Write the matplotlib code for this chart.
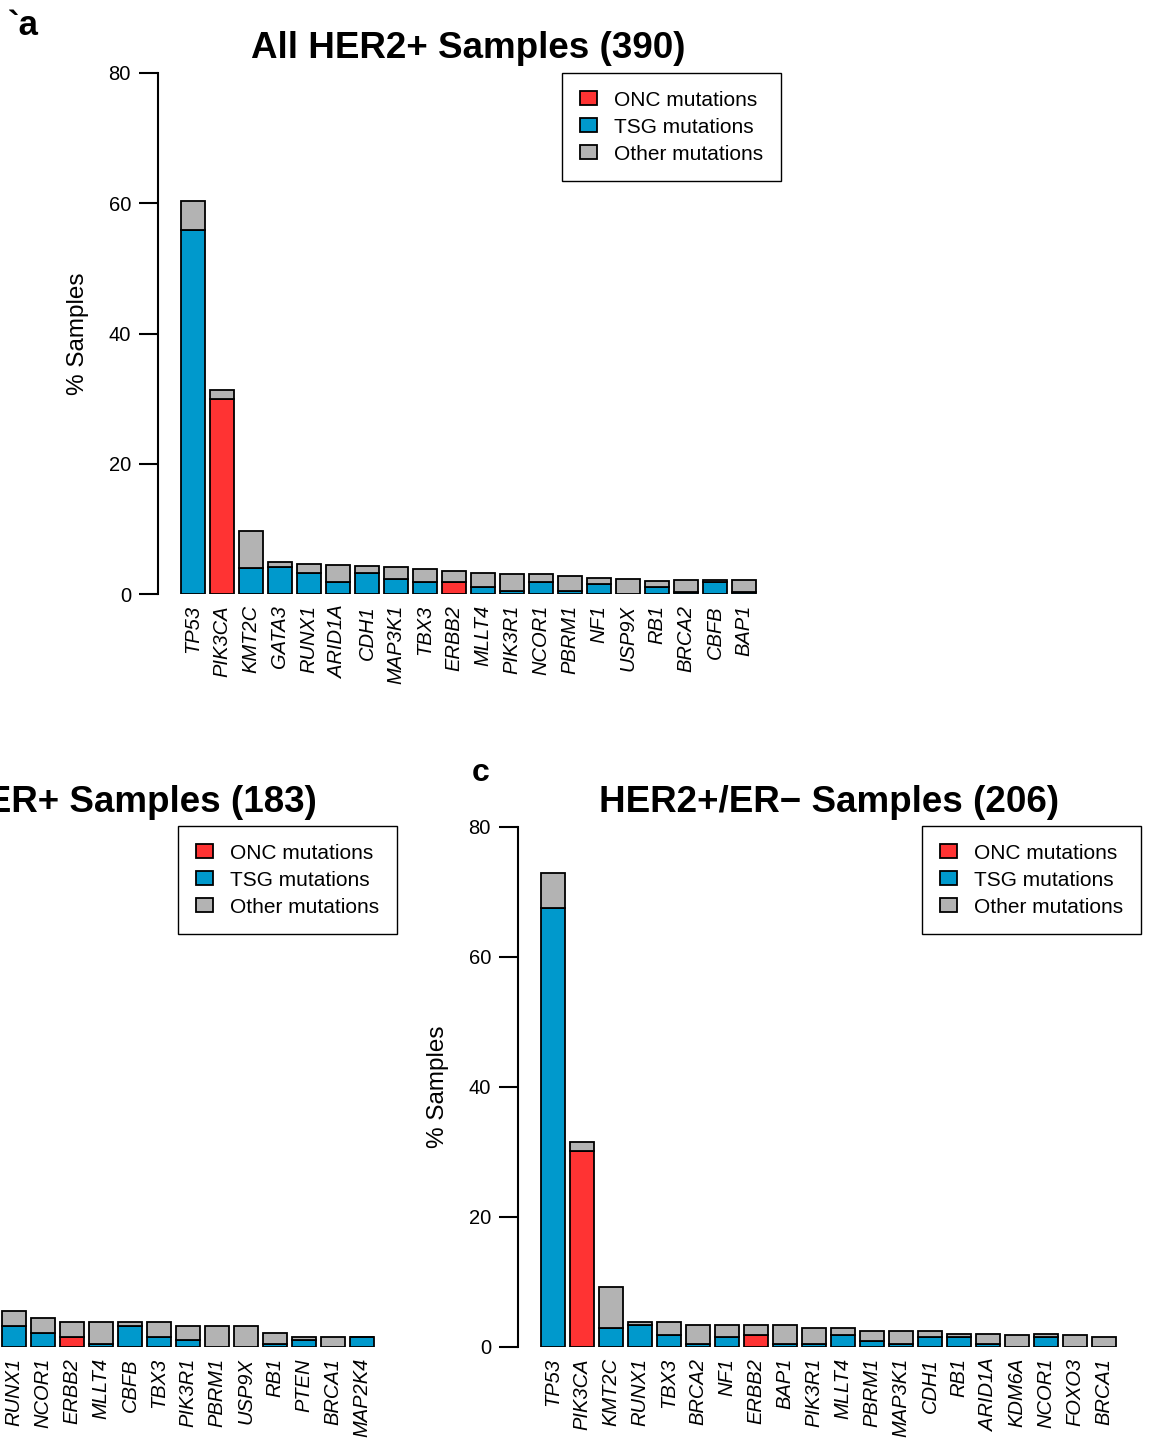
import numpy as np
import matplotlib
matplotlib.use("Agg")
import matplotlib.pyplot as plt

plt.rcParams["font.family"] = ["Liberation Sans", "DejaVu Sans"]

# ---- colours ----
ONC_COLOR = "#FF3333"
TSG_COLOR = "#0099CC"
OTHER_COLOR = "#B3B3B3"

# ---- panel a: all HER2+ samples (n = 390), % samples mutated ----
genes_a = ["TP53", "PIK3CA", "KMT2C", "GATA3", "RUNX1", "ARID1A", "CDH1", "MAP3K1",
           "TBX3", "ERBB2", "MLLT4", "PIK3R1", "NCOR1", "PBRM1", "NF1", "USP9X",
           "RB1", "BRCA2", "CBFB", "BAP1"]
onc_a = [0, 30.0, 0, 0, 0, 0, 0, 0, 0, 1.8, 0, 0, 0, 0, 0, 0, 0, 0, 0, 0]
tsg_a = [55.9, 0, 4.0, 4.1, 3.3, 1.8, 3.3, 2.3, 1.8, 0, 1.0, 0.5, 1.8, 0.5, 1.5, 0,
         1.0, 0.3, 1.8, 0.3]
other_a = [4.4, 1.3, 5.6, 0.8, 1.3, 2.6, 1.0, 1.8, 2.1, 1.8, 2.3, 2.6, 1.3, 2.3, 1.0,
           2.3, 1.0, 1.8, 0.3, 1.8]

# ---- panel b: HER2+/ER+ samples (n = 183), ranks 8-20 ----
genes_b = ["RUNX1", "NCOR1", "ERBB2", "MLLT4", "CBFB", "TBX3", "PIK3R1", "PBRM1",
           "USP9X", "RB1", "PTEN", "BRCA1", "MAP2K4"]
first_rank_b = 8
onc_b = [0, 0, 1.6, 0, 0, 0, 0, 0, 0, 0, 0, 0, 0]
tsg_b = [3.3, 2.2, 0, 0.5, 3.3, 1.6, 1.1, 0, 0, 0.5, 1.1, 0, 1.6]
other_b = [2.2, 2.2, 2.2, 3.3, 0.5, 2.2, 2.2, 3.3, 3.3, 1.6, 0.5, 1.6, 0]

# ---- panel c: HER2+/ER- samples (n = 206) ----
genes_c = ["TP53", "PIK3CA", "KMT2C", "RUNX1", "TBX3", "BRCA2", "NF1", "ERBB2", "BAP1",
           "PIK3R1", "MLLT4", "PBRM1", "MAP3K1", "CDH1", "RB1", "ARID1A", "KDM6A",
           "NCOR1", "FOXO3", "BRCA1"]
onc_c = [0, 30.1, 0, 0, 0, 0, 0, 1.9, 0, 0, 0, 0, 0, 0, 0, 0, 0, 0, 0, 0]
tsg_c = [67.5, 0, 2.9, 3.4, 1.9, 0.5, 1.5, 0, 0.5, 0.5, 1.9, 1.0, 0.5, 1.5, 1.5, 0.5,
         0, 1.5, 0, 0]
other_c = [5.5, 1.5, 6.4, 0.5, 2.0, 2.9, 1.9, 1.5, 2.9, 2.4, 1.0, 1.4, 1.9, 0.9, 0.5,
           1.5, 1.9, 0.5, 1.9, 1.5]

titles = {
    "a": "All HER2+ Samples (390)",
    "b": "HER2+/ER+ Samples (183)",
    "c": "HER2+/ER\u2212 Samples (206)",
}
legend_labels = ["ONC mutations", "TSG mutations", "Other mutations"]

W, H = 1149, 1445
fig = plt.figure(figsize=(W / 100, H / 100), dpi=100)


def fx(px):
    return px / W


def fy(py):
    return 1 - py / H


SLOT_PX = 29.0
AX_W_PX = 621.0
LEFT_PAD = 35.0 / SLOT_PX  # gap between y axis and first bar centre, in slots


def panel(ax_left, ax_top, ax_bottom, genes, onc, tsg, other, start=0, legend_xy=None,
          title=None, title_cx=None, title_base=None):
    ax = fig.add_axes([fx(ax_left), fy(ax_bottom), fx(AX_W_PX), (ax_bottom - ax_top) / H])
    x = np.arange(len(genes)) + start
    onc = np.asarray(onc, float)
    tsg = np.asarray(tsg, float)
    other = np.asarray(other, float)
    kw = dict(width=0.83, edgecolor="black", linewidth=1.3)
    b1 = ax.bar(x, onc, color=ONC_COLOR, **kw)
    b2 = ax.bar(x, tsg, bottom=onc, color=TSG_COLOR, **kw)
    b3 = ax.bar(x, other, bottom=onc + tsg, color=OTHER_COLOR, **kw)

    ax.set_xlim(-LEFT_PAD, -LEFT_PAD + AX_W_PX / SLOT_PX)
    ax.set_ylim(0, 80)
    ax.set_yticks([0, 20, 40, 60, 80])
    ax.tick_params(axis="y", length=13.5, width=1.5, pad=6, labelsize=14.5)
    ax.set_xticks(x)
    ax.set_xticklabels(genes, rotation=90, fontsize=14.5, fontstyle="italic", va="top")
    ax.tick_params(axis="x", length=0, pad=8)
    for s in ("top", "right", "bottom"):
        ax.spines[s].set_visible(False)
    ax.spines["left"].set_linewidth(1.5)
    ax.set_ylabel("% Samples", fontsize=17.5, labelpad=14)
    ax.patch.set_alpha(0)

    if legend_xy is not None:
        leg = ax.legend([b1, b2, b3], legend_labels, loc="upper left",
                        bbox_to_anchor=(fx(legend_xy[0]), fy(legend_xy[1])),
                        bbox_transform=fig.transFigure, fontsize=15, frameon=True,
                        fancybox=False, framealpha=1, edgecolor="black",
                        borderpad=0.85, labelspacing=0.38, handlelength=0.82,
                        handleheight=0.67, handletextpad=0.85, borderaxespad=0)
        leg.get_frame().set_linewidth(1.0)
    if title is not None:
        fig.text(fx(title_cx), fy(title_base), title, ha="center", va="baseline",
                 fontsize=26.5, fontweight="bold")
    return ax


panel(158, 73, 594, genes_a, onc_a, tsg_a, other_a, legend_xy=(562, 73),
      title=titles["a"], title_cx=468, title_base=58)
panel(-224, 827, 1347, genes_b, onc_b, tsg_b, other_b, start=first_rank_b - 1,
      legend_xy=(178, 826), title=titles["b"], title_cx=87, title_base=812)
panel(518, 827, 1347, genes_c, onc_c, tsg_c, other_c, legend_xy=(922, 826),
      title=titles["c"], title_cx=829, title_base=812)

fig.text(fx(8), fy(35), "`a", fontsize=25, fontweight="bold", va="baseline")
fig.text(fx(472), fy(781), "c", fontsize=23, fontweight="bold", va="baseline")

fig.savefig("out.png", dpi=100)
